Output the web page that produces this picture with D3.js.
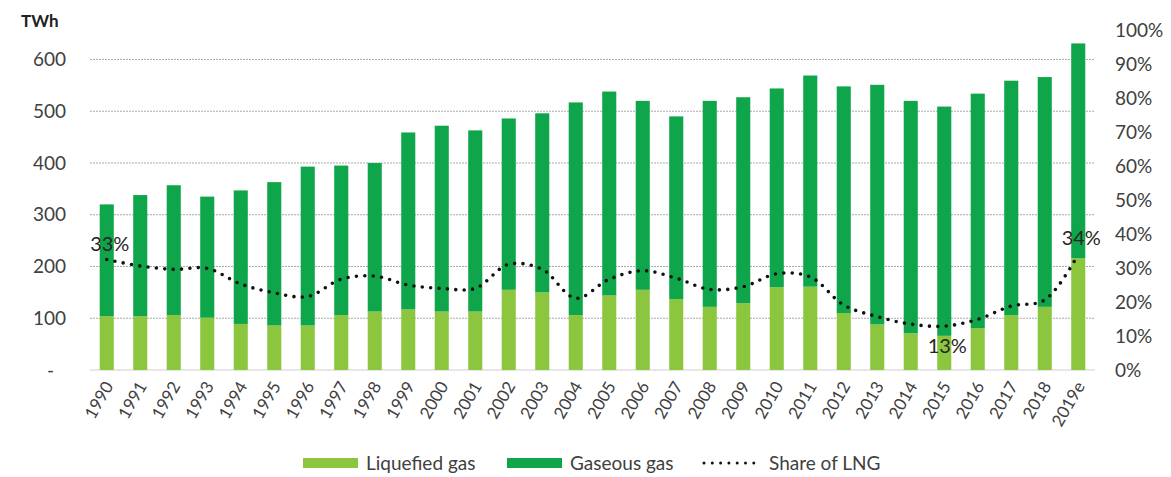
<!DOCTYPE html>
<html>
<head>
<meta charset="utf-8">
<script src="https://cdn.jsdelivr.net/npm/d3@7"></script>
<style>
  body {margin: 0; background: #fff;}
  text {font-family: Lato, "Open Sans", sans-serif; fill: #404040;}
</style>
</head>
<body>
<script>
var years = ["1990","1991","1992","1993","1994","1995","1996","1997","1998","1999",
  "2000","2001","2002","2003","2004","2005","2006","2007","2008","2009",
  "2010","2011","2012","2013","2014","2015","2016","2017","2018","2019e"]

// TWh
var liquefied = [104,104,106,101,89,86,86,106,113,117,
  113,113,155,150,106,144,155,137,122,129,
  160,161,110,88,71,66,81,106,122,216]
var total = [320,338,357,335,347,363,393,395,400,459,
  472,463,486,496,517,538,520,490,520,527,
  544,569,548,551,520,509,534,559,566,631]
var gaseous = total.map(function(t, i) {return t - liquefied[i]})

// share of LNG (right axis)
var share = [0.325,0.306,0.296,0.299,0.253,0.227,0.216,0.267,0.276,0.25,
  0.24,0.24,0.311,0.296,0.211,0.267,0.292,0.27,0.237,0.245,
  0.283,0.274,0.191,0.157,0.135,0.129,0.149,0.188,0.206,0.34]

var leftTicks = [0,100,200,300,400,500,600]
var rightTicks = [0,0.1,0.2,0.3,0.4,0.5,0.6,0.7,0.8,0.9,1]
var shareLabels = [{i: 0, text: "33%", pos: "above"}, {i: 25, text: "13%", pos: "below"}, {i: 29, text: "34%", pos: "above"}]
var legendItems = ["Liquefied gas", "Gaseous gas", "Share of LNG"]

var colLiq = "#8cc63f", colGas = "#0fa64b"

var svg = d3.select("body").append("svg")
  .attr("width", 1171)
  .attr("height", 477)

var x = d3.scaleBand().domain(years).range([90, 1095]).paddingInner(0.58).paddingOuter(0.29)
var yL = d3.scaleLinear().domain([0, 655]).range([370, 31])
var yR = d3.scaleLinear().domain([0, 1]).range([370, 30])

// gridlines
svg.append("g").selectAll("line")
  .data(leftTicks.slice(1))
  .enter().append("line")
  .attr("x1", 90).attr("x2", 1095)
  .attr("y1", function(d) {return yL(d)}).attr("y2", function(d) {return yL(d)})
  .style("stroke", "#aaa")
  .style("stroke-dasharray", "2,1")

svg.append("line")
  .attr("x1", 90).attr("x2", 1095)
  .attr("y1", yL(0)).attr("y2", yL(0))
  .style("stroke", "#d0d0d0")

// stacked bars
var bars = svg.append("g")
bars.selectAll("rect.liq")
  .data(years)
  .enter().append("rect")
  .attr("class", "liq")
  .attr("x", function(d) {return x(d)})
  .attr("width", x.bandwidth())
  .attr("y", function(d, i) {return yL(liquefied[i])})
  .attr("height", function(d, i) {return yL(0) - yL(liquefied[i])})
  .style("fill", colLiq)

bars.selectAll("rect.gas")
  .data(years)
  .enter().append("rect")
  .attr("class", "gas")
  .attr("x", function(d) {return x(d)})
  .attr("width", x.bandwidth())
  .attr("y", function(d, i) {return yL(liquefied[i] + gaseous[i])})
  .attr("height", function(d, i) {return yL(liquefied[i]) - yL(liquefied[i] + gaseous[i])})
  .style("fill", colGas)

// share line
var line = d3.line()
  .x(function(d, i) {return x(years[i]) + x.bandwidth() / 2})
  .y(function(d) {return yR(d)})
  .curve(d3.curveCatmullRom.alpha(0.5))

svg.append("path")
  .datum(share)
  .attr("d", line)
  .style("fill", "none")
  .style("stroke", "#111")
  .style("stroke-width", 3.6)
  .style("stroke-linecap", "round")
  .style("stroke-dasharray", "0,8.4")

svg.append("g").selectAll("text")
  .data(shareLabels)
  .enter().append("text")
  .attr("x", function(d) {return x(years[d.i]) + x.bandwidth() / 2 + 3})
  .attr("y", function(d) {return d.pos == "above" ? yR(share[d.i]) - 9 : yR(share[d.i]) + 27})
  .style("text-anchor", "middle")
  .style("font-size", "20px")
  .style("fill", "#262626")
  .text(function(d) {return d.text})

// left axis
svg.append("g").selectAll("text")
  .data(leftTicks)
  .enter().append("text")
  .attr("x", function(d) {return d == 0 ? 54 : 66})
  .attr("y", function(d) {return yL(d)})
  .attr("dy", "0.35em")
  .style("text-anchor", "end")
  .style("font-size", "19px")
  .text(function(d) {return d == 0 ? "-" : d})

svg.append("text")
  .attr("x", 21).attr("y", 27)
  .style("font-size", "17px")
  .style("font-weight", "bold")
  .style("fill", "#222")
  .text("TWh")

// right axis
svg.append("g").selectAll("text")
  .data(rightTicks)
  .enter().append("text")
  .attr("x", 1115)
  .attr("y", function(d) {return yR(d)})
  .attr("dy", "0.35em")
  .style("text-anchor", "start")
  .style("font-size", "19px")
  .text(function(d) {return d3.format(".0%")(d)})

// x labels
svg.append("g").selectAll("text")
  .data(years)
  .enter().append("text")
  .attr("transform", function(d) {return "translate(" + (x(d) + x.bandwidth() / 2 + 2) + ",383) rotate(-60)"})
  .attr("dy", "0.35em")
  .style("text-anchor", "end")
  .style("font-size", "17px")
  .text(function(d) {return d})

// legend
var legend = svg.append("g")
legend.append("rect").attr("x", 303).attr("y", 458).attr("width", 55).attr("height", 10).style("fill", colLiq)
legend.append("text").attr("x", 366).attr("y", 470).style("font-size", "19px").text(legendItems[0])
legend.append("rect").attr("x", 507).attr("y", 458).attr("width", 55).attr("height", 10).style("fill", colGas)
legend.append("text").attr("x", 570).attr("y", 470).style("font-size", "19px").text(legendItems[1])
legend.append("line").attr("x1", 704).attr("x2", 762).attr("y1", 463).attr("y2", 463)
  .style("stroke", "#111").style("stroke-width", 3).style("stroke-linecap", "round").style("stroke-dasharray", "0,8.3")
legend.append("text").attr("x", 769).attr("y", 470).style("font-size", "19px").text(legendItems[2])
</script>
</body>
</html>
